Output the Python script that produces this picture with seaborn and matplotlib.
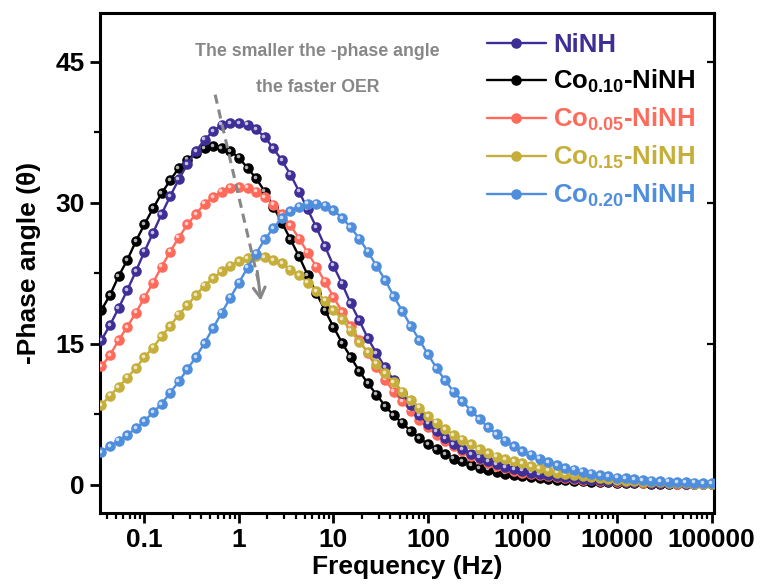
import matplotlib
matplotlib.use("Agg")
import matplotlib.pyplot as plt
import matplotlib.transforms as mtransforms
import seaborn as sns
import pandas as pd

# ---------------- data ----------------
freq = [0.03511, 0.04329, 0.05337, 0.06579, 0.08111,
        0.1, 0.1233, 0.152, 0.1874, 0.231, 0.2848, 0.3511, 0.4329, 0.5337, 0.6579, 0.8111,
        1, 1.233, 1.52, 1.874, 2.31, 2.848, 3.511, 4.329, 5.337, 6.579, 8.111,
        10, 12.33, 15.2, 18.74, 23.1, 28.48, 35.11, 43.29, 53.37, 65.79, 81.11,
        100, 123.3, 152, 187.4, 231, 284.8, 351.1, 432.9, 533.7, 657.9, 811.1,
        1000, 1233, 1520, 1874, 2310, 2848, 3511, 4329, 5337, 6579, 8111,
        10000, 12328, 15199, 18738, 23101, 28480, 35112, 43288, 53367, 65793, 81113,
        100000]

ninh = [15.4, 17.0, 18.8, 20.7, 22.7, 24.8, 26.8, 28.8, 30.7, 32.5,
        34.1, 35.5, 36.7, 37.6, 38.3, 38.5, 38.5, 38.3, 37.8, 37.0,
        35.8, 34.5, 33.0, 31.2, 29.3, 27.4, 25.4, 23.3, 21.4, 19.3,
        17.5, 15.6, 14.0, 12.5, 11.1, 9.8, 8.5, 7.4, 6.5, 5.7,
        5.0, 4.3, 3.8, 3.3, 2.9, 2.5, 2.2, 1.9, 1.7, 1.5,
        1.3, 1.15, 1.0, 0.9, 0.8, 0.7, 0.62, 0.55, 0.48, 0.42,
        0.37, 0.32, 0.28, 0.25, 0.22, 0.19, 0.17, 0.15, 0.13, 0.11,
        0.1, 0.09]

co010 = [18.6, 20.2, 22.2, 23.9, 25.9, 27.7, 29.4, 31.0, 32.4, 33.7,
         34.6, 35.3, 35.8, 36.0, 35.8, 35.5, 34.8, 33.7, 32.6, 31.2,
         29.6, 27.9, 26.1, 24.3, 22.3, 20.4, 18.6, 16.8, 15.1, 13.6,
         12.1, 10.8, 9.6, 8.4, 7.4, 6.6, 5.7, 5.0, 4.3, 3.8,
         3.3, 2.8, 2.5, 2.1, 1.8, 1.6, 1.4, 1.2, 1.0, 0.9,
         0.8, 0.7, 0.62, 0.55, 0.48, 0.42, 0.37, 0.33, 0.29, 0.26,
         0.23, 0.2, 0.18, 0.16, 0.14, 0.12, 0.1, 0.09, 0.08, 0.07,
         0.06, 0.05]

co005 = [12.6, 13.8, 15.4, 16.8, 18.3, 19.9, 21.5, 23.2, 24.8, 26.3,
         27.7, 28.8, 29.9, 30.6, 31.2, 31.6, 31.7, 31.6, 31.2, 30.6,
         29.8, 28.8, 27.6, 26.2, 24.7, 23.2, 21.6, 20.0, 18.4, 16.9,
         15.4, 14.0, 12.5, 11.2, 9.9, 8.9, 7.9, 6.9, 6.1, 5.3,
         4.7, 4.1, 3.6, 3.1, 2.7, 2.3, 2.0, 1.75, 1.5, 1.3,
         1.15, 1.0, 0.9, 0.8, 0.7, 0.62, 0.55, 0.48, 0.42, 0.37,
         0.32, 0.28, 0.25, 0.22, 0.19, 0.17, 0.15, 0.13, 0.11, 0.1,
         0.09, 0.08]

co015 = [8.5, 9.5, 10.4, 11.4, 12.4, 13.6, 14.6, 15.8, 16.9, 18.1,
         19.1, 20.2, 21.2, 22.0, 22.7, 23.3, 23.8, 24.1, 24.3, 24.2,
         23.9, 23.6, 22.9, 22.3, 21.5, 20.6, 19.6, 18.6, 17.6, 16.4,
         15.2, 14.1, 12.9, 11.9, 10.9, 9.9, 9.0, 8.2, 7.3, 6.6,
         5.9, 5.3, 4.8, 4.3, 3.8, 3.4, 3.0, 2.7, 2.5, 2.3,
         2.0, 1.8, 1.5, 1.3, 1.1, 1.0, 0.9, 0.8, 0.7, 0.6,
         0.52, 0.45, 0.4, 0.35, 0.3, 0.26, 0.22, 0.19, 0.16, 0.14,
         0.12, 0.1]

co020 = [3.5, 4.1, 4.7, 5.3, 6.0, 6.8, 7.7, 8.6, 9.8, 11.0,
         12.3, 13.6, 15.1, 16.7, 18.3, 19.9, 21.5, 23.1, 24.6, 26.1,
         27.3, 28.4, 29.1, 29.6, 29.9, 29.9, 29.7, 29.2, 28.4, 27.4,
         26.2, 24.8, 23.3, 21.8, 20.1, 18.5, 16.9, 15.4, 13.9, 12.4,
         11.1, 9.9, 8.9, 7.9, 7.0, 6.1, 5.4, 4.7, 4.1, 3.6,
         3.2, 2.8, 2.4, 2.1, 1.8, 1.6, 1.4, 1.2, 1.05, 0.9,
         0.78, 0.68, 0.6, 0.53, 0.46, 0.4, 0.35, 0.3, 0.26, 0.22,
         0.19, 0.16]

labels = ["NiNH",
          r"Co$_{\mathbf{0.10}}$-NiNH",
          r"Co$_{\mathbf{0.05}}$-NiNH",
          r"Co$_{\mathbf{0.15}}$-NiNH",
          r"Co$_{\mathbf{0.20}}$-NiNH"]
series = [ninh, co010, co005, co015, co020]
colors = ["#3E2F96", "#000000", "#FF6A5A", "#C6AE3A", "#4F8EDC"]
zorders = [4, 2, 3, 5, 6]

xtick_vals = [0.1, 1, 10, 100, 1000, 10000, 100000]
xtick_labels = ["0.1", "1", "10", "100", "1000", "10000", "100000"]
ytick_vals = [0, 15, 30, 45]

# ---------------- style ----------------
sns.set_theme(style="white")
plt.rcParams["font.family"] = ["Liberation Sans", "DejaVu Sans"]
plt.rcParams["font.weight"] = "bold"
plt.rcParams["text.color"] = "black"
plt.rcParams["axes.labelcolor"] = "black"
plt.rcParams["xtick.color"] = "black"
plt.rcParams["ytick.color"] = "black"
plt.rcParams["mathtext.fontset"] = "custom"
plt.rcParams["mathtext.rm"] = "Liberation Sans:bold"
plt.rcParams["mathtext.bf"] = "Liberation Sans:bold"
plt.rcParams["mathtext.it"] = "Liberation Sans:bold"

fig = plt.figure(figsize=(7.6, 5.85), dpi=100)
ax = fig.add_axes([0.1316, 0.123, 0.808, 0.855])

hl = mtransforms.offset_copy(ax.transData, fig=fig, x=-1.3, y=1.3, units="dots")
for lab, vals, col, z in zip(labels, series, colors, zorders):
    df = pd.DataFrame({"f": freq, "p": vals})
    sns.lineplot(data=df, x="f", y="p", ax=ax, color=col, lw=1.7, marker="o",
                 markersize=7.6, markeredgewidth=0, markeredgecolor=col,
                 sort=False, label=lab, zorder=z, estimator=None)
    ax.plot(freq, vals, ls="none", marker="o", ms=2.6, mew=0, color="white",
            alpha=0.7, transform=hl, zorder=z + 0.5)

ax.set_xscale("log")
ax.set_xlim(0.0339, 1.065e5)
ax.set_ylim(-3, 50.2)
ax.set_xticks(xtick_vals)
ax.set_xticklabels(xtick_labels)
ax.set_yticks(ytick_vals)
ax.set_yticks([7.5, 22.5, 37.5], minor=True)
ax.tick_params(axis="both", which="major", labelsize=19, width=2, length=7,
               direction="out", bottom=True, left=True, right=False, top=False,
               pad=4, colors="black")
ax.tick_params(axis="both", which="minor", width=1.6, length=4, direction="out",
               bottom=True, left=True, colors="black")
for lab in ax.get_xticklabels() + ax.get_yticklabels():
    lab.set_fontweight("bold")
for s in ax.spines.values():
    s.set_linewidth(2.2)
    s.set_color("black")

# inward ticks on the right spine
axr = ax.secondary_yaxis("right")
axr.set_yticks(ytick_vals)
axr.set_yticks([7.5, 22.5, 37.5], minor=True)
axr.tick_params(which="major", direction="in", length=5, width=1.6,
                labelright=False, colors="black")
axr.tick_params(which="minor", direction="in", length=0)
axr.spines["right"].set_linewidth(2.2)
axr.spines["right"].set_color("black")

ax.set_xlabel("Frequency (Hz)", fontsize=19, fontweight="bold", labelpad=2,
              color="black")
ax.set_ylabel("-Phase angle (\u03b8)", fontsize=19, fontweight="bold", labelpad=10,
              color="black")

# annotation
gray = "#878787"
ax.text(6.8, 46.1, "The smaller the -phase angle", ha="center", va="center",
        fontsize=12.8, fontweight="bold", color=gray)
ax.text(6.8, 42.3, "the faster OER", ha="center", va="center",
        fontsize=12.8, fontweight="bold", color=gray)
ax.plot([0.56, 1.62], [41.5, 21.5], ls=(0, (3, 2)), lw=2.2, color=gray, zorder=10)
ax.annotate("", xy=(1.72, 19.3), xytext=(1.55, 23.0),
            arrowprops=dict(arrowstyle="->,head_length=0.6,head_width=0.35",
                            color=gray, lw=2.2), zorder=10)

leg = ax.legend(loc="upper right", bbox_to_anchor=(0.995, 0.99), frameon=False,
                fontsize=18.5, handlelength=2.3, handletextpad=0.3,
                labelspacing=0.42, labelcolor="linecolor", borderaxespad=0.2)
for t in leg.get_texts():
    t.set_fontweight("bold")

fig.savefig("out.png", dpi=100)
